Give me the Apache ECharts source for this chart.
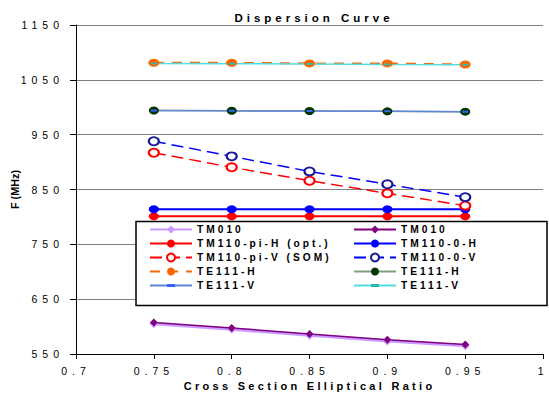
<!DOCTYPE html>
<html>
<head>
<meta charset="utf-8">
<script src="https://cdn.jsdelivr.net/npm/echarts@6/dist/echarts.min.js"></script>
<style>
  html, body { margin: 0; padding: 0; background: #fff; }
  #chart { width: 549px; height: 397px; }
  /* excel style wide letter spacing, picked by font size */
  #chart text[style*="10.5px"] { letter-spacing: 5px; }
  #chart text[style*="10.2px"] { letter-spacing: 3px; }
  #chart text[style*="11.5px"] { letter-spacing: 4px; }
  #chart text[style*="11px"] { letter-spacing: 3.3px; }
</style>
</head>
<body>
<div id="chart"></div>
<script>
// cross section elliptical ratio
var ratios = [0.75, 0.8, 0.85, 0.9, 0.95];

// F (MHz) per mode
var tm010A = [605, 595, 584, 573.5, 565];
var tm010B = [607.5, 597.5, 586.5, 576, 567.5];
var tm110piH = [801, 801, 801, 801, 801];
var tm110zeroH = [814, 814, 814, 814, 814];
var tm110piV = [917, 890.5, 866, 843, 820.5];
var tm110zeroV = [938, 910.5, 883, 859.5, 836];
var te111hA = [1081, 1081, 1080, 1080, 1078];
var te111hB = [994, 993.5, 993, 992.5, 992];
var te111vA = [994, 993.5, 993, 992.5, 992];
var te111vB = [1080, 1079.5, 1079, 1078, 1077.5];

// series ids -> legend text
var seriesIds = ['tm010a', 'tm010b', 'tm110piH', 'tm110zeroH', 'tm110piV', 'tm110zeroV', 'te111hA', 'te111hB', 'te111vA', 'te111vB'];
var legendText = ['TM010', 'TM010', 'TM110-pi-H (opt.)', 'TM110-0-H', 'TM110-pi-V (SOM)', 'TM110-0-V', 'TE111-H', 'TE111-H', 'TE111-V', 'TE111-V'];

var yTicks = { min: 550, max: 1150, step: 100 };
var xTicks = { min: 0.7, max: 1.0, step: 0.05 };

// short flat dash, padded so it stays thin when drawn in a square box
var dashIcon = 'path://M0,0h12M0,3h12v4h-12zM0,10h12';

function pts(vals) {
  return ratios.map(function (r, i) { return [r, vals[i]]; });
}

function line(id, vals, color, extra) {
  var s = {
    name: id,
    type: 'line',
    data: pts(vals),
    symbol: 'circle',
    symbolSize: [10, 8],
    itemStyle: { color: color },
    lineStyle: { color: color, width: 2 },
    z: 2
  };
  for (var k in extra) s[k] = extra[k];
  return s;
}

function nameOf(id) {
  return legendText[seriesIds.indexOf(id)];
}

var font = 'Liberation Sans, Arial, sans-serif';

var legendBase = {
  orient: 'vertical',
  top: 224.5,
  itemGap: 4,
  itemWidth: 42,
  itemHeight: 10,
  padding: 0,
  selectedMode: false,
  z: 5,
  formatter: nameOf,
  textStyle: { fontFamily: font, fontSize: 10.2, fontWeight: 'bold', color: '#000' }
};

var myChart = echarts.init(document.getElementById('chart'), null, { renderer: 'svg' });
myChart.setOption({
  animation: false,
  title: {
    text: 'Dispersion Curve',
    left: 309,
    top: 7,
    textAlign: 'center',
    textStyle: { fontFamily: font, fontSize: 11.5, fontWeight: 'bold', color: '#000' }
  },
  grid: { left: 76, top: 25, width: 474, height: 329 },
  legend: [
    Object.assign({}, legendBase, { left: 149, data: [seriesIds[0], seriesIds[2], seriesIds[4], seriesIds[6], seriesIds[8]] }),
    Object.assign({}, legendBase, { left: 353, data: [seriesIds[1], seriesIds[3], seriesIds[5], seriesIds[7], seriesIds[9]] })
  ],
  graphic: [{
    type: 'rect',
    shape: { x: 136, y: 221.5, width: 411, height: 84 },
    style: { fill: '#fff', stroke: '#000', lineWidth: 1.5 },
    z: 3
  }],
  xAxis: {
    type: 'value',
    min: xTicks.min,
    max: xTicks.max,
    interval: xTicks.step,
    name: 'Cross Section Elliptical Ratio',
    nameLocation: 'middle',
    nameGap: 23,
    nameTextStyle: { fontFamily: font, fontSize: 11, fontWeight: 'bold', color: '#000' },
    axisLine: { lineStyle: { color: '#000', width: 1 } },
    axisTick: { length: 5, lineStyle: { color: '#000' } },
    axisLabel: { fontFamily: font, fontSize: 10.5, color: '#000', margin: 11, formatter: function (v) { return String(+v.toFixed(2)); } },
    splitLine: { show: false }
  },
  yAxis: {
    type: 'value',
    min: yTicks.min,
    max: yTicks.max,
    interval: yTicks.step,
    name: 'F (MHz)',
    nameLocation: 'middle',
    nameGap: 56,
    nameTextStyle: { fontFamily: font, fontSize: 10.8, fontWeight: 'bold', color: '#000' },
    axisLine: { show: true, lineStyle: { color: '#000', width: 1 } },
    axisTick: { show: true, length: 6, lineStyle: { color: '#000' } },
    axisLabel: { fontFamily: font, fontSize: 10.5, color: '#000', margin: 12, formatter: function (v) { return String(v); } },
    splitLine: { lineStyle: { color: '#808080', width: 1 } }
  },
  series: [
    line(seriesIds[0], tm010A, '#cc99ff', { symbol: 'diamond', symbolSize: 9, lineStyle: { color: '#cc99ff', width: 3 } }),
    line(seriesIds[1], tm010B, '#800080', { symbol: 'diamond', symbolSize: 8, lineStyle: { color: '#800080', width: 1.5 } }),
    line(seriesIds[2], tm110piH, '#ff0000'),
    line(seriesIds[3], tm110zeroH, '#0000ff'),
    line(seriesIds[4], tm110piV, '#ff0000', { symbol: 'emptyCircle', lineStyle: { color: '#ff0000', width: 1.5, type: [12, 6] } }),
    line(seriesIds[5], tm110zeroV, '#1a1a99', { symbol: 'emptyCircle', lineStyle: { color: '#0000ff', width: 1.5, type: [12, 6] } }),
    line(seriesIds[6], te111hA, '#ff6600', { symbolSize: [11, 8], lineStyle: { color: '#ee6a10', width: 2, type: [10, 8] } }),
    line(seriesIds[7], te111hB, '#003300', { lineStyle: { color: '#7f9f7f', width: 1.5 } }),
    line(seriesIds[8], te111vA, '#3366ff', { symbol: dashIcon, symbolSize: [6, 5], lineStyle: { color: '#5f86d8', width: 1.5 } }),
    line(seriesIds[9], te111vB, '#22bbbb', { symbol: dashIcon, symbolSize: [6, 5], lineStyle: { color: '#55dddd', width: 1.5 } })
  ]
});
</script>
</body>
</html>
